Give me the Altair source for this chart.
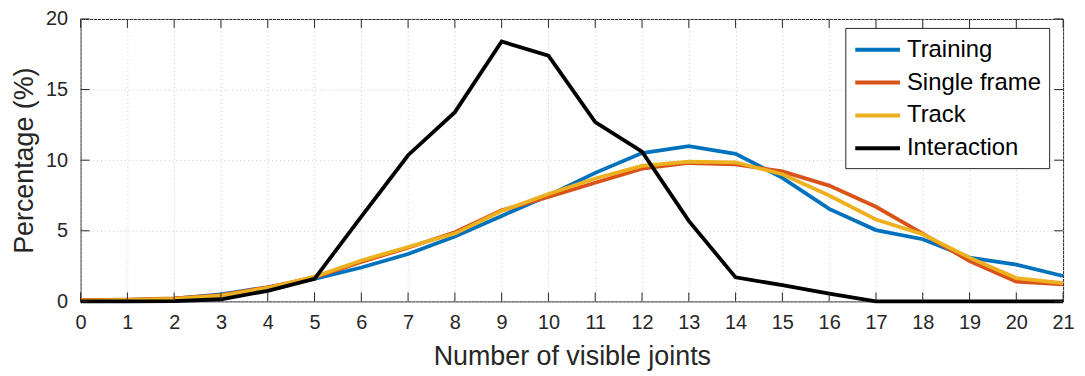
import altair as alt
import pandas as pd

joints = list(range(22))
training = [0.05, 0.1, 0.2, 0.5, 1.0, 1.6, 2.4, 3.35, 4.6, 6.05, 7.5, 9.1, 10.5, 11.0, 10.45, 8.75, 6.55, 5.05, 4.4, 3.1, 2.6, 1.8]
single_frame = [0.08, 0.12, 0.22, 0.45, 1.0, 1.7, 2.8, 3.8, 4.9, 6.45, 7.4, 8.4, 9.4, 9.8, 9.7, 9.2, 8.2, 6.7, 4.8, 2.85, 1.4, 1.2]
track = [0.06, 0.1, 0.18, 0.4, 0.95, 1.75, 2.9, 3.85, 4.8, 6.4, 7.6, 8.7, 9.6, 9.9, 9.85, 9.0, 7.5, 5.8, 4.75, 3.1, 1.65, 1.3]
interaction = [0.0, 0.0, 0.02, 0.15, 0.75, 1.6, 6.0, 10.35, 13.4, 18.4, 17.4, 12.7, 10.6, 5.7, 1.7, 1.15, 0.55, 0.0, 0.0, 0.0, 0.0, 0.0]

series_names = ["Training", "Single frame", "Track", "Interaction"]
series_colors = ["#0072BD", "#D95319", "#EDB120", "#000000"]
x_ticks = list(range(22))
y_ticks = [0, 5, 10, 15, 20]

W, H = 988, 284
FONT = "Liberation Sans"
TXT = "#262626"
TL = 9

rows = []
for name, vals in zip(series_names, [training, single_frame, track, interaction]):
    for j, v in zip(joints, vals):
        rows.append({"joints": j, "pct": v, "series": name})
df = pd.DataFrame(rows)

xscale = alt.Scale(domain=[0, 21], nice=False, zero=False)
yscale = alt.Scale(domain=[0, 20], nice=False)
color = alt.Color("series:N",
                  scale=alt.Scale(domain=series_names, range=series_colors),
                  legend=alt.Legend(title=None))

xaxis = alt.Axis(values=x_ticks, title="Number of visible joints", labelFontSize=20,
                 labelColor=TXT, labelFont=FONT, labelPadding=11, labelFlush=False,
                 labelOverlap=False, ticks=False, domain=False,
                 grid=True, gridDash=[1, 3], gridColor="#c8c8c8",
                 titleFontSize=27, titleFont=FONT, titleColor=TXT, titleFontWeight="normal",
                 titleBaseline="alphabetic", titleY=63)
yaxis = alt.Axis(values=y_ticks, title="Percentage (%)", labelFontSize=20,
                 labelColor=TXT, labelFont=FONT, labelPadding=13,
                 ticks=False, domain=False,
                 grid=True, gridDash=[1, 3], gridColor="#c8c8c8",
                 titleFontSize=27, titleFont=FONT, titleColor=TXT, titleFontWeight="normal",
                 titleBaseline="alphabetic", titleX=-48)

base = alt.Chart(df)
layers = []
for i, name in enumerate(series_names):
    layers.append(base.transform_filter(alt.datum.series == name)
                  .mark_line(strokeWidth=3.8).encode(
                      x=alt.X("joints:Q", scale=xscale, axis=xaxis),
                      y=alt.Y("pct:Q", scale=yscale, axis=yaxis),
                      color=color))

xt = pd.DataFrame({"t": x_ticks})
yt = pd.DataFrame({"t": y_ticks})
tick_style = dict(color=TXT, strokeWidth=1)
bottom_ticks = alt.Chart(xt).mark_rule(**tick_style).encode(
    x=alt.X("t:Q", scale=xscale, axis=xaxis), y=alt.value(H), y2=alt.value(H - TL))
top_ticks = alt.Chart(xt).mark_rule(**tick_style).encode(
    x=alt.X("t:Q", scale=xscale, axis=xaxis), y=alt.value(0), y2=alt.value(TL))
left_ticks = alt.Chart(yt).mark_rule(**tick_style).encode(
    y=alt.Y("t:Q", scale=yscale, axis=yaxis), x=alt.value(0), x2=alt.value(TL))
right_ticks = alt.Chart(yt).mark_rule(**tick_style).encode(
    y=alt.Y("t:Q", scale=yscale, axis=yaxis), x=alt.value(W), x2=alt.value(W - TL))

chart = alt.layer(*layers, bottom_ticks, top_ticks, left_ticks, right_ticks).properties(
    width=W, height=H,
    autosize=alt.AutoSizeParams(type="none"),
    padding={"left": 73, "top": 10, "right": 14, "bottom": 72},
).configure_view(stroke=TXT, strokeWidth=1).configure_legend(
    orient="none", legendX=769, legendY=9,
    strokeColor=TXT, fillColor="white", padding=8,
    symbolType="M-1,0H2.75", symbolStrokeWidth=4, symbolSize=576,
    labelFontSize=24, labelFont=FONT, labelColor="#000000",
    rowPadding=7, labelOffset=26,
)

chart.save("out.html", embed_options={"renderer": "svg", "actions": False})
